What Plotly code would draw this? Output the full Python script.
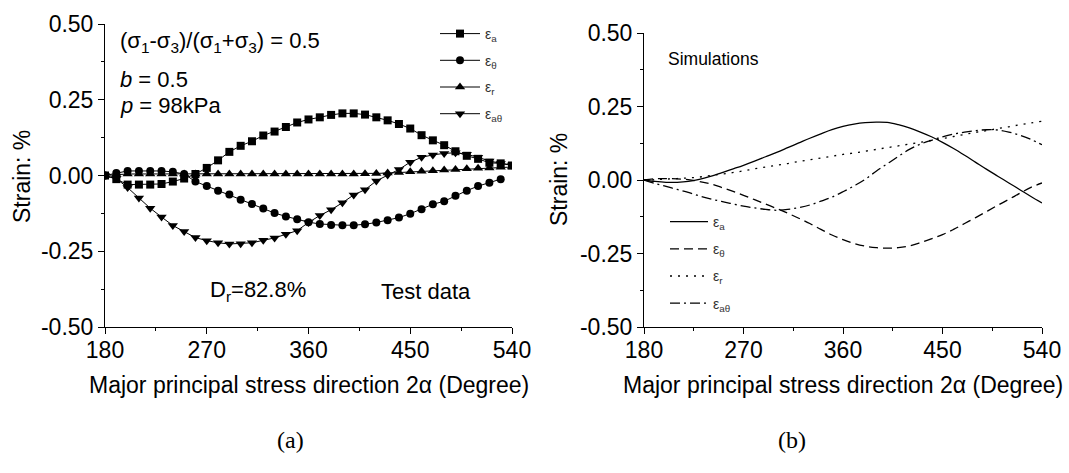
import plotly.graph_objects as go

# ---------------- data ----------------
deg_test = [180, 190, 200, 210, 220, 230, 240, 250, 260, 270, 280, 290, 300, 310, 320, 330, 340, 350, 360,
            370, 380, 390, 400, 410, 420, 430, 440, 450, 460, 470, 480, 490, 500, 510, 520, 530, 540]
deg_test_eth = [180, 190, 200, 210, 220, 230, 240, 250, 260, 270, 280, 290, 300, 310, 320, 330, 340, 350, 360,
                370, 380, 390, 400, 410, 420, 430, 440, 450, 460, 470, 480, 490, 500, 510, 520, 530]

ea_test = [0, -0.012, -0.03, -0.03, -0.03, -0.028, -0.02, -0.01, 0.005, 0.025, 0.05, 0.078, 0.098, 0.113,
           0.132, 0.145, 0.16, 0.175, 0.185, 0.192, 0.2, 0.205, 0.205, 0.201, 0.192, 0.182, 0.17, 0.155, 0.133,
           0.116, 0.1, 0.08, 0.065, 0.055, 0.042, 0.04, 0.033]
eth_test = [0, 0.008, 0.015, 0.015, 0.015, 0.015, 0.012, 0.005, -0.02, -0.035, -0.05, -0.063, -0.08, -0.094,
            -0.109, -0.124, -0.135, -0.144, -0.154, -0.16, -0.163, -0.164, -0.164, -0.161, -0.155, -0.148,
            -0.139, -0.126, -0.111, -0.095, -0.085, -0.067, -0.05, -0.035, -0.024, -0.012]
er_test = [0, 0.003, 0.005, 0.005, 0.005, 0.005, 0.005, 0.005, 0.005, 0.005, 0.005, 0.005, 0.005, 0.005,
           0.005, 0.005, 0.005, 0.005, 0.005, 0.005, 0.005, 0.005, 0.005, 0.006, 0.007, 0.008, 0.01, 0.012,
           0.014, 0.016, 0.018, 0.02, 0.022, 0.024, 0.025, 0.027, 0.028]
eat_test = [0, -0.01, -0.04, -0.074, -0.108, -0.137, -0.165, -0.185, -0.205, -0.215, -0.222, -0.226, -0.225,
            -0.222, -0.214, -0.206, -0.194, -0.182, -0.155, -0.132, -0.113, -0.09, -0.064, -0.047, -0.018,
            0.002, 0.02, 0.044, 0.06, 0.068, 0.073, 0.075, 0.07, 0.06, 0.048, 0.04, 0.035]

deg_sim = [180, 190, 200, 210, 220, 230, 240, 250, 260, 270, 280, 290, 300, 310, 320, 330, 340, 350, 360,
           370, 380, 390, 400, 410, 420, 430, 440, 450, 460, 470, 480, 490, 500, 510, 520, 530, 540]
ea_sim = [0, -0.005, -0.008, -0.008, -0.005, 0.002, 0.012, 0.024, 0.037, 0.05, 0.064, 0.079, 0.094, 0.11,
          0.126, 0.142, 0.157, 0.171, 0.182, 0.19, 0.195, 0.197, 0.196, 0.188, 0.177, 0.163, 0.147, 0.128,
          0.107, 0.084, 0.06, 0.036, 0.013, -0.01, -0.033, -0.056, -0.078]
eth_sim = [0, 0.004, 0.005, 0.004, 0.001, -0.005, -0.013, -0.025, -0.038, -0.052, -0.067, -0.082, -0.097,
           -0.113, -0.13, -0.148, -0.168, -0.187, -0.203, -0.216, -0.225, -0.23, -0.232, -0.23, -0.224,
           -0.213, -0.2, -0.186, -0.168, -0.148, -0.128, -0.107, -0.086, -0.066, -0.045, -0.025, -0.01]
er_sim = [0, 0.001, 0.003, 0.005, 0.007, 0.01, 0.015, 0.02, 0.025, 0.031, 0.038, 0.044, 0.05, 0.056, 0.063,
          0.069, 0.075, 0.081, 0.087, 0.092, 0.098, 0.104, 0.11, 0.116, 0.122, 0.128, 0.135, 0.141, 0.148,
          0.155, 0.162, 0.168, 0.175, 0.181, 0.188, 0.194, 0.2]
eat_sim = [0, -0.012, -0.022, -0.032, -0.042, -0.054, -0.064, -0.073, -0.081, -0.089, -0.095, -0.1, -0.103,
           -0.1, -0.094, -0.085, -0.072, -0.058, -0.04, -0.02, 0.002, 0.03, 0.055, 0.08, 0.104, 0.122, 0.135,
           0.147, 0.156, 0.163, 0.168, 0.171, 0.17, 0.163, 0.152, 0.138, 0.12]

legend_names = ["ε<sub>a</sub>", "ε<sub>θ</sub>", "ε<sub>r</sub>", "ε<sub>aθ</sub>"]
x_tickvals = [180, 270, 360, 450, 540]
x_ticktext = ["180", "270", "360", "450", "540"]
x_minor = [225, 315, 405, 495]
y_tickvals = [-0.5, -0.25, 0, 0.25, 0.5]
y_ticktext = ["-0.50", "-0.25", "0.00", "0.25", "0.50"]
y_minor = [-0.375, -0.125, 0.125, 0.375]

# ---------------- figure ----------------
W, H = 1069, 473
FONT = "Liberation Sans, Arial, sans-serif"
fig = go.Figure()

markers = ["square", "circle", "triangle-up", "triangle-down"]
msizes = [8, 8, 9, 9]
test_x = [deg_test, deg_test_eth, deg_test, deg_test]
test_y = [ea_test, eth_test, er_test, eat_test]
for i in range(4):
    fig.add_trace(go.Scatter(
        x=test_x[i], y=test_y[i], mode="lines+markers", name=legend_names[i],
        line=dict(color="black", width=1),
        marker=dict(symbol=markers[i], size=msizes[i], color="black"),
        xaxis="x", yaxis="y", legend="legend", legendgroup="t%d" % i))

dashes = ["solid", "9px,5px", "2px,6px", "10px,4px,2px,4px"]
sim_y = [ea_sim, eth_sim, er_sim, eat_sim]
for i in range(4):
    fig.add_trace(go.Scatter(
        x=deg_sim, y=sim_y[i], mode="lines", name=legend_names[i],
        line=dict(color="black", width=1.3, dash=dashes[i], shape="spline"),
        xaxis="x2", yaxis="y2", legend="legend2", legendgroup="s%d" % i))

def xax(domain, anchor):
    return dict(domain=domain, anchor=anchor, range=[180, 540], tickmode="array", automargin=False,
                tickvals=x_tickvals, ticktext=x_ticktext, ticks="outside", ticklen=6,
                tickwidth=1, tickcolor="black", showline=True, linecolor="black", linewidth=1,
                showgrid=False, zeroline=False, tickfont=dict(family=FONT, size=23, color="black"),
                ticklabelstandoff=-4,
                minor=dict(tickvals=x_minor, ticks="outside", ticklen=3, tickcolor="black",
                           showgrid=False))

def yax(domain, anchor):
    return dict(domain=domain, anchor=anchor, range=[-0.5, 0.5], tickmode="array", automargin=False,
                tickvals=y_tickvals, ticktext=y_ticktext, ticks="outside", ticklen=6,
                tickwidth=1, tickcolor="black", showline=True, linecolor="black", linewidth=1,
                showgrid=False, zeroline=False, tickfont=dict(family=FONT, size=23, color="black"),
                minor=dict(tickvals=y_minor, ticks="outside", ticklen=3, tickcolor="black",
                           showgrid=False))

fig.update_layout(
    width=W, height=H, margin=dict(l=0, r=0, t=0, b=0, autoexpand=False),
    paper_bgcolor="white", plot_bgcolor="white",
    font=dict(family=FONT, color="black"),
    xaxis=xax([105 / W, 512 / W], "y"),
    yaxis=yax([(H - 327) / H, (H - 24) / H], "x"),
    xaxis2=xax([644 / W, 1042 / W], "y2"),
    yaxis2=yax([(H - 327) / H, (H - 33) / H], "x2"),
    legend=dict(x=435 / W, y=1 - 18 / H, xanchor="left", yanchor="top",
                font=dict(family=FONT, size=14, color="#333"), bgcolor="rgba(0,0,0,0)",
                tracegroupgap=5.5, itemwidth=40),
    legend2=dict(x=665 / W, y=1 - 206 / H, xanchor="left", yanchor="top",
                 font=dict(family=FONT, size=14, color="#333"), bgcolor="rgba(0,0,0,0)",
                 tracegroupgap=6, itemwidth=38),
    showlegend=True,
)

def ann(text, x, y, size, xanchor="center", angle=0, family=FONT):
    fig.add_annotation(text=text, x=x / W, y=1 - y / H, xref="paper", yref="paper",
                       xanchor=xanchor, yanchor="middle", showarrow=False, textangle=angle,
                       font=dict(family=family, size=size, color="black"))

xtitle = "Major principal stress direction 2α (Degree)"
ann(xtitle, 308.5, 385, 23)
ann(xtitle, 843, 385, 23)
ann("Strain: %", 22, 177, 23, angle=-90)
ann("Strain: %", 559, 180, 23, angle=-90)
ann("(σ<sub>1</sub>-σ<sub>3</sub>)/(σ<sub>1</sub>+σ<sub>3</sub>) = 0.5", 118, 42, 22, xanchor="left")
ann("<i>b</i> = 0.5", 118, 79, 22, xanchor="left")
ann("<i>p</i> = 98kPa", 118, 106, 22, xanchor="left")
ann("D<sub>r</sub>=82.8%", 208, 291, 22, xanchor="left")
ann("Test data", 379, 291, 22, xanchor="left")
ann("Simulations", 666, 59, 17.5, xanchor="left")
ann("(a)", 290, 440, 24, family="Liberation Serif, Times New Roman, serif")
ann("(b)", 792, 440, 24, family="Liberation Serif, Times New Roman, serif")

fig.write_html("out.html")
